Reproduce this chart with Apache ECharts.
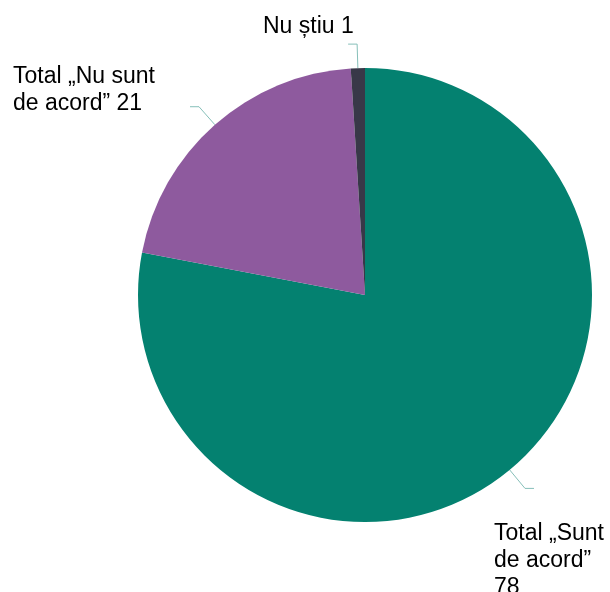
<!DOCTYPE html>
<html>
<head>
<meta charset="utf-8">
<script src="https://cdn.jsdelivr.net/npm/echarts@6/dist/echarts.min.js"></script>
<style>
html,body{margin:0;padding:0;background:#fff;}
#chart{width:610px;height:592px;}
</style>
</head>
<body>
<div id="chart"></div>
<script>
var categories = ['Total „Sunt\nde acord”', 'Total „Nu sunt\nde acord”', 'Nu știu'];
var values = [78, 21, 1];
var valueSeparators = ['\n', ' ', ' '];
var colors = ['#048170', '#8e5a9e', '#383848'];

var labelBoxes = [
  {x: 494, y: 520},
  {x: 13, y: 63},
  {x: 263, y: 13}
];

var chart = echarts.init(document.getElementById('chart'), null, {renderer: 'canvas'});
chart.setOption({
  animation: false,
  backgroundColor: '#ffffff',
  series: [{
    type: 'pie',
    center: [365, 295],
    radius: 227,
    startAngle: 90,
    clockwise: true,
    avoidLabelOverlap: false,
    data: categories.map(function (c, i) {
      return {name: c, value: values[i], itemStyle: {color: colors[i]}};
    }),
    label: {
      show: true,
      formatter: function (p) {
        return p.name + valueSeparators[p.dataIndex] + p.value;
      },
      fontFamily: 'Liberation Sans, Arial, sans-serif',
      fontSize: 23,
      lineHeight: 27,
      color: '#000000'
    },
    labelLine: {
      show: true,
      length: 24,
      length2: 9,
      smooth: false,
      lineStyle: {color: '#86bfb9', width: 1}
    },
    labelLayout: function (params) {
      var b = labelBoxes[params.dataIndex];
      return {
        x: b.x,
        y: b.y,
        align: 'left',
        verticalAlign: 'top',
        labelLinePoints: params.labelLinePoints
      };
    }
  }]
});
</script>
</body>
</html>
